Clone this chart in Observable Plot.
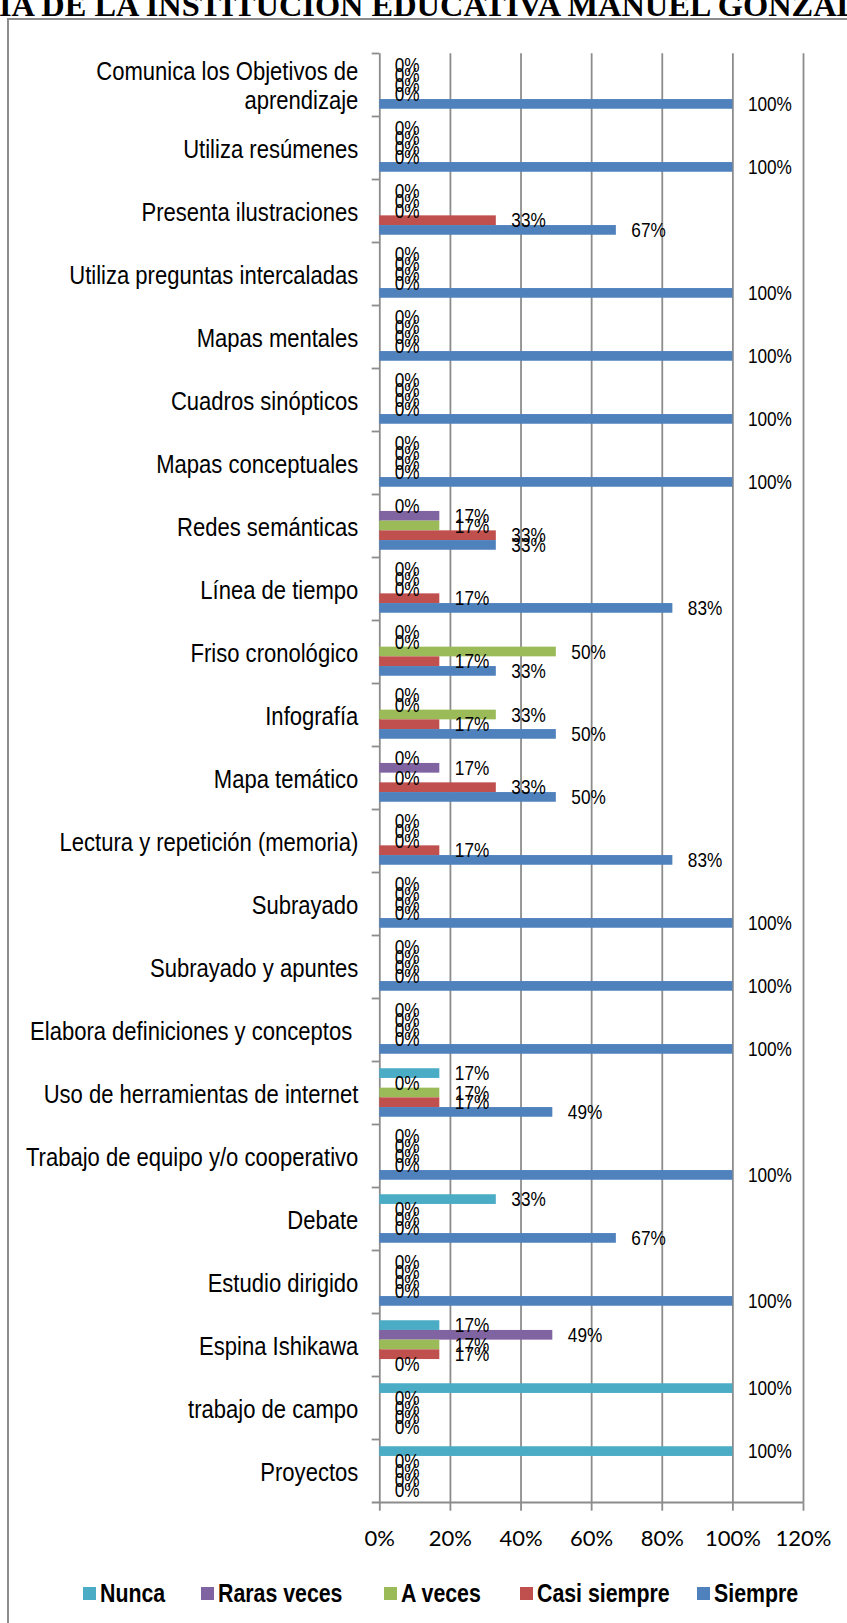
<!DOCTYPE html>
<html><head><meta charset="utf-8">
<script src="https://cdn.jsdelivr.net/npm/d3@7"></script>
<script src="https://cdn.jsdelivr.net/npm/@observablehq/plot@0.6"></script>
<style>
html,body{margin:0;padding:0;background:#fff;width:847px;height:1623px;overflow:hidden;position:relative}
#title{position:absolute;left:-1px;top:-10px;white-space:nowrap;font-family:"Liberation Serif",serif;font-weight:bold;font-size:32.4px;line-height:31px;color:#000}
#frame{position:absolute;left:7px;top:18px;width:900px;height:1700px;border:2px solid #8c8c8c;box-sizing:border-box}
#chart{position:absolute;left:0;top:0}
#legend{position:absolute;left:0;top:1578px;height:30px;width:847px}
.item{position:absolute;top:0;height:30px}
.sw{position:absolute;top:9px;left:0;width:13px;height:13px}
.lt{position:absolute;top:0;left:17px;font-family:"Liberation Sans",Arial,sans-serif;font-weight:bold;font-size:26px;line-height:30px;white-space:nowrap;transform:scaleX(0.82);transform-origin:0 50%;color:#000}
g[aria-label="x-axis tick label"]{font-family:Lato,sans-serif;font-size:22px}
</style>
</head><body>
<div id="title">IA DE LA INSTITUCIÓN EDUCATIVA MANUEL GONZAL</div>
<div id="frame"></div>
<div id="chart"></div>
<div id="legend"></div>
<script>
const categories = [
  "Comunica los Objetivos de\naprendizaje",
  "Utiliza resúmenes",
  "Presenta ilustraciones",
  "Utiliza preguntas intercaladas",
  "Mapas mentales",
  "Cuadros sinópticos",
  "Mapas conceptuales",
  "Redes semánticas",
  "Línea de tiempo",
  "Friso cronológico",
  "Infografía",
  "Mapa temático",
  "Lectura y repetición (memoria)",
  "Subrayado",
  "Subrayado y apuntes",
  "Elabora definiciones y conceptos\u00a0",
  "Uso de herramientas de internet",
  "Trabajo de equipo y/o cooperativo",
  "Debate",
  "Estudio dirigido",
  "Espina Ishikawa",
  "trabajo de campo",
  "Proyectos"
];
const seriesNames = ["Nunca", "Raras veces", "A veces", "Casi siempre", "Siempre"];
const nunca       = [0,0,0,0,0,0,0,0,0,0,0,0,0,0,0,0,0.17,0,0.33,0,0.17,1,1];
const rarasVeces  = [0,0,0,0,0,0,0,0.17,0,0,0,0.17,0,0,0,0,0,0,0,0,0.49,0,0];
const aVeces      = [0,0,0,0,0,0,0,0.17,0,0.5,0.33,0,0,0,0,0,0.17,0,0,0,0.17,0,0];
const casiSiempre = [0,0,0.33,0,0,0,0,0.33,0.17,0.17,0.17,0.33,0.17,0,0,0,0.17,0,0,0,0.17,0,0];
const siempre     = [1,1,0.67,1,1,1,1,0.33,0.83,0.33,0.5,0.5,0.83,1,1,1,0.49,1,0.67,1,0,0,0];
const seriesColors = ["#4BACC6", "#8064A2", "#9BBB59", "#C0504D", "#4F81BD"];
const xTicks = [0, 0.2, 0.4, 0.6, 0.8, 1.0, 1.2];

const seriesValues = [nunca, rarasVeces, aVeces, casiSiempre, siempre];
const rows = categories.flatMap((c, i) => seriesNames.map((s, j) => ({cat: c, series: s, j, value: seriesValues[j][i]})));
const fmt = d3.format(".0%");

const W = 847, H = 1570;
const mTop = 53.3, mBottom = H - 1502.3, mLeft = 379.3, mRight = 44;
const bw = (H - mTop - mBottom) / categories.length;
const barH = 9.7;
const padOuter = (bw - seriesNames.length * barH) / 2;
const gridColor = "#8c8c8c", gridW = 1.8;

const marks = [
  Plot.ruleX(xTicks.filter(d => d > 0), {stroke: gridColor, strokeWidth: gridW}),
  Plot.ruleX([0], {stroke: gridColor, strokeWidth: gridW}),
  Plot.ruleY(categories, {y: d => d, x1: 0, x2: 0, insetLeft: -7.6, dy: -bw / 2, stroke: gridColor, strokeWidth: gridW}),
  Plot.ruleY([categories[categories.length - 1]], {y: d => d, insetLeft: -7.6, dy: bw / 2, stroke: gridColor, strokeWidth: gridW}),
];
seriesNames.forEach((s, j) => {
  const sub = rows.filter(d => d.j === j);
  marks.push(Plot.barX(sub, {
    x: "value", y: "cat", fill: seriesColors[j],
    insetTop: padOuter + j * barH,
    insetBottom: bw - padOuter - (j + 1) * barH
  }));
});
seriesNames.forEach((s, j) => {
  const sub = rows.filter(d => d.j === j);
  marks.push(Plot.text(sub, {
    x: "value", y: "cat", text: d => fmt(d.value),
    textAnchor: "start", dx: 15, dy: padOuter + (j + 0.5) * barH - bw / 2,
    fontSize: 21, fill: "#000"
  }));
});
marks.push(Plot.axisY({tickSize: 0, tickPadding: 21.5, fontSize: 26.5, lineHeight: 1.12}));
marks.push(Plot.axisX({ticks: xTicks, tickFormat: fmt, tickSize: 8.4, tickPadding: 19, stroke: gridColor, strokeWidth: gridW, fontSize: 22}));

const chart = Plot.plot({
  width: W, height: H,
  marginTop: mTop, marginBottom: mBottom, marginLeft: mLeft, marginRight: mRight,
  x: {domain: [0, 1.2], label: null},
  y: {domain: categories, padding: 0, label: null},
  style: {fontFamily: "'Liberation Sans', Arial, sans-serif", color: "#000", background: "transparent", overflow: "visible"},
  marks
});
document.getElementById("chart").appendChild(chart);

// emulate a narrow sans (Arial Narrow) by condensing glyphs horizontally about the anchor
function condense(selector, k) {
  chart.querySelectorAll(selector).forEach(t => {
    const g = document.createElementNS("http://www.w3.org/2000/svg", "g");
    t.parentNode.insertBefore(g, t);
    g.appendChild(t);
    const b = g.getBBox();
    const a = getComputedStyle(t).textAnchor;
    const ax = a === "end" ? b.x + b.width : a === "middle" ? b.x + b.width / 2 : b.x;
    g.setAttribute("transform", `translate(${ax},0) scale(${k},1) translate(${-ax},0)`);
  });
}
condense('g[aria-label="y-axis tick label"] text', 0.832);
condense('g[aria-label="text"] text', 0.82);

// legend (layout positions of the swatches)
const legendLeft = [83, 201, 384, 520, 697];
const legend = document.getElementById("legend");
seriesNames.forEach((s, j) => {
  const it = document.createElement("div");
  it.className = "item";
  it.style.left = legendLeft[j] + "px";
  const sw = document.createElement("div");
  sw.className = "sw"; sw.style.background = seriesColors[j];
  const lt = document.createElement("span");
  lt.className = "lt"; lt.textContent = s;
  it.appendChild(sw); it.appendChild(lt);
  legend.appendChild(it);
});
</script>
</body></html>
